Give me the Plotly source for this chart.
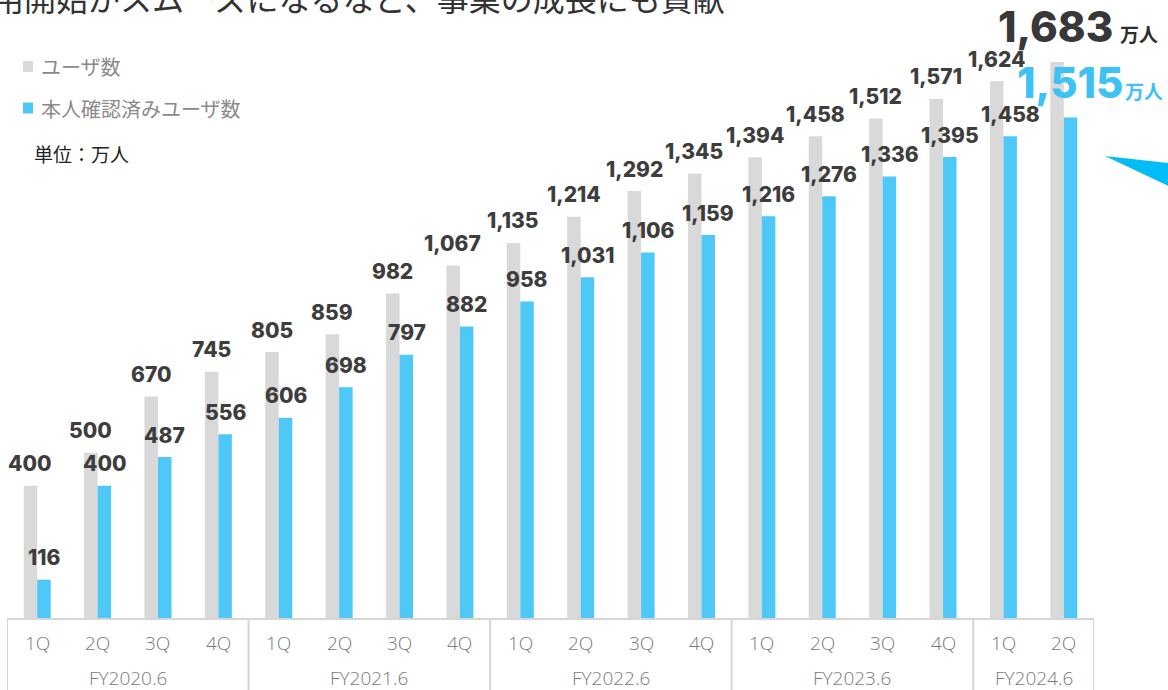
import plotly.graph_objects as go

# Quarterly user counts (unit: 万人)
fiscal_years = ["FY2020.6", "FY2021.6", "FY2022.6", "FY2023.6", "FY2024.6"]
quarters_per_year = [4, 4, 4, 4, 2]
quarter_labels = ["1Q", "2Q", "3Q", "4Q"] * 4 + ["1Q", "2Q"]
users = [400, 500, 670, 745, 805, 859, 982, 1067, 1135, 1214, 1292, 1345,
         1394, 1458, 1512, 1571, 1624, 1683]
verified_users = [116, 400, 487, 556, 606, 698, 797, 882, 958, 1031, 1106, 1159,
                  1216, 1276, 1336, 1395, 1458, 1515]
series_names = ["ユーザ数", "本人確認済みユーザ数"]
unit_text = "単位：万人"
headline = "利用開始がスムーズになるなど、事業の成長にも貢献"

GRAY = "#d9d9d9"
BLUE = "#4dc8f7"
BIG_BLUE = "#3ec1f3"
LABEL = "#3d3d3d"
AXIS_TEXT = "#7a7a7a"
LINE = "#d6d6d6"
NUM_FAMILY = "Inter, Open Sans, Arial, sans-serif"

# unique category keys, one per quarter
fy_of_bar = []
for fy, n in zip(fiscal_years, quarters_per_year):
    fy_of_bar += [fy] * n
keys = [f"{fy} {q}" for fy, q in zip(fy_of_bar, quarter_labels)]

# layout geometry (pixels)
W, H = 1168, 690
ML, MR, MT, MB = 7, 74, 10, 72
PW, PH = W - ML - MR, H - MT - MB
Y_MAX = 1840


def px_x(px):
    return (px - ML) / PW


def px_y(py):
    return (H - MB - py) / PH


fig = go.Figure()
fig.add_trace(go.Bar(x=keys, y=users, name=series_names[0], marker_color=GRAY,
                     marker_line_width=0, showlegend=False))
fig.add_trace(go.Bar(x=keys, y=verified_users, name=series_names[1], marker_color=BLUE,
                     marker_line_width=0, showlegend=False))

ann = []
num_font = dict(family=NUM_FAMILY, size=21, color=LABEL, weight=800)
n = len(keys)
for i in range(n - 1):
    ann.append(dict(x=keys[i], y=users[i], xref="x", yref="y", text=f"{users[i]:,}",
                    showarrow=False, xshift=-7, yshift=22, yanchor="middle",
                    font=num_font))
    ann.append(dict(x=keys[i], y=verified_users[i], xref="x", yref="y",
                    text=f"{verified_users[i]:,}", showarrow=False, xshift=7, yshift=22,
                    yanchor="middle", font=num_font))

# highlighted latest values
big_font = dict(family=NUM_FAMILY, size=42, weight=800)
ann.append(dict(x=keys[-1], y=users[-1], xref="x", yref="y", text=f"{users[-1]:,}",
                showarrow=False, xshift=-8, yshift=35, yanchor="middle",
                font=dict(big_font, color="#383838")))
ann.append(dict(x=keys[-1], y=users[-1], xref="x", yref="y", text="万人",
                showarrow=False, xshift=54, yshift=28, xanchor="left", yanchor="middle",
                font=dict(family="Noto Sans CJK JP", size=19, weight="bold", color="#2e2e2e")))
ann.append(dict(x=keys[-1], y=verified_users[-1], xref="x", yref="y",
                text=f"{verified_users[-1]:,}", showarrow=False, xshift=7, yshift=35,
                yanchor="middle", font=dict(big_font, color=BIG_BLUE)))
ann.append(dict(x=keys[-1], y=verified_users[-1], xref="x", yref="y", text="万人",
                showarrow=False, xshift=59, yshift=27, xanchor="left", yanchor="middle",
                font=dict(family="Noto Sans CJK JP", size=19, weight="bold", color=BIG_BLUE)))

# category table under the bars
for i, q in enumerate(quarter_labels):
    ann.append(dict(x=keys[i], y=px_y(643), xref="x", yref="paper", text=q,
                    showarrow=False, yanchor="middle",
                    font=dict(family="Open Sans, sans-serif", size=19, color=AXIS_TEXT,
                              weight=300)))
shapes = []
start = 0
bounds = [-0.5]
for fy, cnt in zip(fiscal_years, quarters_per_year):
    mid = start + (cnt - 1) / 2
    ann.append(dict(x=mid, y=px_y(678), xref="x", yref="paper", text=fy,
                    showarrow=False, yanchor="middle",
                    font=dict(family="Open Sans, sans-serif", size=19, color=AXIS_TEXT,
                              weight=300)))
    start += cnt
    bounds.append(start - 0.5)

shapes.append(dict(type="line", xref="x", yref="paper", x0=-0.5, x1=n - 0.5,
                   y0=px_y(619), y1=px_y(619), line=dict(color=LINE, width=2)))
for b in bounds:
    shapes.append(dict(type="line", xref="x", yref="paper", x0=b, x1=b,
                       y0=px_y(619), y1=px_y(700), line=dict(color=LINE, width=2)))

# legend
legend_rows = [(series_names[0], GRAY, 66.5), (series_names[1], BLUE, 108)]
for name, color, py in legend_rows:
    shapes.append(dict(type="rect", xref="paper", yref="paper",
                       x0=px_x(23), x1=px_x(33), y0=px_y(py - 5.5), y1=px_y(py + 5.5),
                       fillcolor=color, line_width=0))
    ann.append(dict(x=px_x(39), y=px_y(py), xref="paper", yref="paper", text=name,
                    showarrow=False, xanchor="left", yanchor="middle",
                    font=dict(family="Noto Sans CJK JP", size=20, color="#8a8a8a")))
ann.append(dict(x=px_x(32), y=px_y(154), xref="paper", yref="paper", text=unit_text,
                showarrow=False, xanchor="left", yanchor="middle",
                font=dict(family="Noto Sans CJK JP", size=19, color="#222222")))

# headline text running off the top edge
ann.append(dict(x=px_x(-42), y=px_y(-3), xref="paper", yref="paper", text=headline,
                showarrow=False, xanchor="left", yanchor="middle",
                font=dict(family="Noto Sans CJK JP", size=32, color="#333333")))

# accent wedge at the right edge
pts = [(1105, 156), (1200, 166.6), (1200, 201)]
path = "M " + " L ".join(f"{px_x(a):.5f},{px_y(b):.5f}" for a, b in pts) + " Z"
shapes.append(dict(type="path", xref="paper", yref="paper", path=path,
                   fillcolor="#00bef5", line_width=0))

fig.update_layout(
    width=W, height=H,
    margin=dict(l=ML, r=MR, t=MT, b=MB),
    paper_bgcolor="white", plot_bgcolor="white",
    barmode="group", bargap=0.553, bargroupgap=0,
    xaxis=dict(type="category", range=[-0.5, n - 0.5], showticklabels=False,
               showgrid=False, zeroline=False, showline=False, ticks=""),
    yaxis=dict(range=[0, Y_MAX], visible=False, showgrid=False, zeroline=False),
    annotations=ann, shapes=shapes, showlegend=False,
)

fig.write_html("out.html")
